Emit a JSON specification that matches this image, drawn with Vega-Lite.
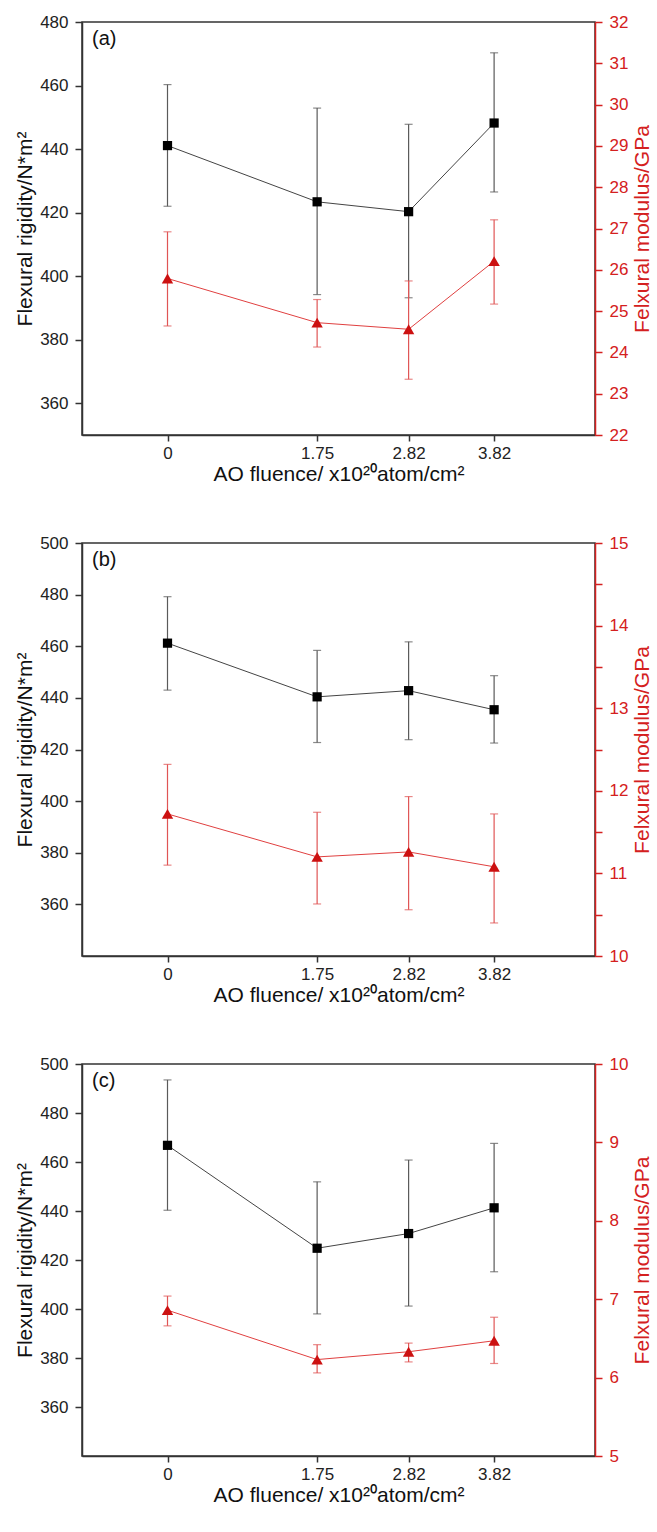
{
  "$schema": "https://vega.github.io/schema/vega-lite/v6.json",
  "padding": {"left": 13, "top": 12, "right": 0, "bottom": 0},
  "spacing": 48,
  "datasets": {
    "a": [
      {"x": 0, "rig": 441.1, "rig_lo": 422.0, "rig_hi": 460.3, "mod": 25.79, "mod_lo": 24.64, "mod_hi": 26.92},
      {"x": 1.75, "rig": 423.4, "rig_lo": 394.2, "rig_hi": 452.9, "mod": 24.72, "mod_lo": 24.13, "mod_hi": 25.28},
      {"x": 2.82, "rig": 420.3, "rig_lo": 393.2, "rig_hi": 447.8, "mod": 24.56, "mod_lo": 23.35, "mod_hi": 25.73},
      {"x": 3.82, "rig": 448.2, "rig_lo": 426.5, "rig_hi": 470.3, "mod": 26.21, "mod_lo": 25.17, "mod_hi": 27.21}
    ],
    "b": [
      {"x": 0, "rig": 461.2, "rig_lo": 443.0, "rig_hi": 479.2, "mod": 11.72, "mod_lo": 11.10, "mod_hi": 12.32},
      {"x": 1.75, "rig": 440.4, "rig_lo": 422.7, "rig_hi": 458.4, "mod": 11.20, "mod_lo": 10.63, "mod_hi": 11.74},
      {"x": 2.82, "rig": 442.8, "rig_lo": 423.8, "rig_hi": 461.7, "mod": 11.26, "mod_lo": 10.56, "mod_hi": 11.93},
      {"x": 3.82, "rig": 435.4, "rig_lo": 422.5, "rig_hi": 448.6, "mod": 11.08, "mod_lo": 10.40, "mod_hi": 11.72}
    ],
    "c": [
      {"x": 0, "rig": 466.8, "rig_lo": 440.3, "rig_hi": 493.5, "mod": 6.86, "mod_lo": 6.66, "mod_hi": 7.04},
      {"x": 1.75, "rig": 424.8, "rig_lo": 398.0, "rig_hi": 451.9, "mod": 6.23, "mod_lo": 6.06, "mod_hi": 6.42},
      {"x": 2.82, "rig": 430.8, "rig_lo": 401.2, "rig_hi": 460.8, "mod": 6.33, "mod_lo": 6.20, "mod_hi": 6.44},
      {"x": 3.82, "rig": 441.3, "rig_lo": 415.2, "rig_hi": 467.6, "mod": 6.47, "mod_lo": 6.18, "mod_hi": 6.77}
    ]
  },
  "vconcat": [
    {
      "width": 513, "height": 413,
      "data": {"name": "a"},
      "title": {"text": "(a)"},
      "encoding": {"x": {"field": "x", "type": "quantitative", "scale": {"domain": [-1, 5]}, "axis": {"values": [0, 1.75, 2.82, 3.82], "labelExpr": "'' + datum.value", "title": "AO fluence/ x10²⁰atom/cm²"}}},
      "layer": [
        {
          "layer": [
            {"mark": {"type": "errorbar", "ticks": {"size": 8}, "color": "#5a5a5a", "thickness": 1.2},
             "encoding": {"y": {"field": "rig_lo", "type": "quantitative", "scale": {"domain": [350, 480]},
               "axis": {"orient": "left", "title": "Flexural rigidity/N*m²", "values": [360,370,380,390,400,410,420,430,440,450,460,470,480], "labelExpr": "datum.value % 20 === 0 ? format(datum.value, 'd') : ''", "encode": {"ticks": {"update": {"x2": {"signal": "datum.value % 20 === 0 ? -7 : -3.5"}}}}}},
               "y2": {"field": "rig_hi"}}},
            {"mark": {"type": "line", "color": "#444", "strokeWidth": 1}, "encoding": {"y": {"field": "rig", "type": "quantitative"}}},
            {"mark": {"type": "point", "shape": "square", "filled": true, "color": "#000", "size": 85, "opacity": 1}, "encoding": {"y": {"field": "rig", "type": "quantitative"}}}
          ]
        },
        {
          "layer": [
            {"mark": {"type": "errorbar", "ticks": {"size": 8}, "color": "#e05555", "thickness": 1.2},
             "encoding": {"y": {"field": "mod_lo", "type": "quantitative", "scale": {"domain": [22, 32]},
               "axis": {"orient": "right", "title": "Felxural modulus/GPa", "titleAngle": 270, "titleBaseline": "top", "values": [22,22.5,23,23.5,24,24.5,25,25.5,26,26.5,27,27.5,28,28.5,29,29.5,30,30.5,31,31.5,32], "labelExpr": "datum.value % 1 === 0 ? format(datum.value, 'd') : ''", "domainColor": "#d42020", "tickColor": "#d42020", "labelColor": "#d42020", "titleColor": "#d42020", "labelPadding": 7, "encode": {"ticks": {"update": {"x2": {"signal": "datum.value % 1 === 0 ? 7 : 3.5"}}}}}},
               "y2": {"field": "mod_hi"}}},
            {"mark": {"type": "line", "color": "#e04040", "strokeWidth": 1}, "encoding": {"y": {"field": "mod", "type": "quantitative"}}},
            {"mark": {"type": "point", "shape": "triangle-up", "filled": true, "color": "#cc1111", "size": 130, "opacity": 1}, "encoding": {"y": {"field": "mod", "type": "quantitative"}}}
          ]
        }
      ],
      "resolve": {"scale": {"y": "independent"}}
    },
    {
      "width": 513, "height": 413,
      "data": {"name": "b"},
      "title": {"text": "(b)"},
      "encoding": {"x": {"field": "x", "type": "quantitative", "scale": {"domain": [-1, 5]}, "axis": {"values": [0, 1.75, 2.82, 3.82], "labelExpr": "'' + datum.value", "title": "AO fluence/ x10²⁰atom/cm²"}}},
      "layer": [
        {
          "layer": [
            {"mark": {"type": "errorbar", "ticks": {"size": 8}, "color": "#5a5a5a", "thickness": 1.2},
             "encoding": {"y": {"field": "rig_lo", "type": "quantitative", "scale": {"domain": [350, 500]},
               "axis": {"orient": "left", "title": "Flexural rigidity/N*m²", "values": [360,370,380,390,400,410,420,430,440,450,460,470,480,490,500], "labelExpr": "datum.value % 20 === 0 ? format(datum.value, 'd') : ''", "encode": {"ticks": {"update": {"x2": {"signal": "datum.value % 20 === 0 ? -7 : -3.5"}}}}}},
               "y2": {"field": "rig_hi"}}},
            {"mark": {"type": "line", "color": "#444", "strokeWidth": 1}, "encoding": {"y": {"field": "rig", "type": "quantitative"}}},
            {"mark": {"type": "point", "shape": "square", "filled": true, "color": "#000", "size": 85, "opacity": 1}, "encoding": {"y": {"field": "rig", "type": "quantitative"}}}
          ]
        },
        {
          "layer": [
            {"mark": {"type": "errorbar", "ticks": {"size": 8}, "color": "#e05555", "thickness": 1.2},
             "encoding": {"y": {"field": "mod_lo", "type": "quantitative", "scale": {"domain": [10, 15]},
               "axis": {"orient": "right", "title": "Felxural modulus/GPa", "titleAngle": 270, "titleBaseline": "top", "values": [10,10.5,11,11.5,12,12.5,13,13.5,14,14.5,15], "labelExpr": "datum.value % 1 === 0 ? format(datum.value, 'd') : ''", "domainColor": "#d42020", "tickColor": "#d42020", "labelColor": "#d42020", "titleColor": "#d42020", "labelPadding": 7, "encode": {"ticks": {"update": {"x2": {"signal": "datum.value % 1 === 0 ? 7 : 3.5"}}}}}},
               "y2": {"field": "mod_hi"}}},
            {"mark": {"type": "line", "color": "#e04040", "strokeWidth": 1}, "encoding": {"y": {"field": "mod", "type": "quantitative"}}},
            {"mark": {"type": "point", "shape": "triangle-up", "filled": true, "color": "#cc1111", "size": 130, "opacity": 1}, "encoding": {"y": {"field": "mod", "type": "quantitative"}}}
          ]
        }
      ],
      "resolve": {"scale": {"y": "independent"}}
    },
    {
      "width": 513, "height": 392,
      "data": {"name": "c"},
      "title": {"text": "(c)"},
      "encoding": {"x": {"field": "x", "type": "quantitative", "scale": {"domain": [-1, 5]}, "axis": {"values": [0, 1.75, 2.82, 3.82], "labelExpr": "'' + datum.value", "title": "AO fluence/ x10²⁰atom/cm²"}}},
      "layer": [
        {
          "layer": [
            {"mark": {"type": "errorbar", "ticks": {"size": 8}, "color": "#5a5a5a", "thickness": 1.2},
             "encoding": {"y": {"field": "rig_lo", "type": "quantitative", "scale": {"domain": [350, 500]},
               "axis": {"orient": "left", "title": "Flexural rigidity/N*m²", "values": [360,370,380,390,400,410,420,430,440,450,460,470,480,490,500], "labelExpr": "datum.value % 20 === 0 ? format(datum.value, 'd') : ''", "encode": {"ticks": {"update": {"x2": {"signal": "datum.value % 20 === 0 ? -7 : -3.5"}}}}}},
               "y2": {"field": "rig_hi"}}},
            {"mark": {"type": "line", "color": "#444", "strokeWidth": 1}, "encoding": {"y": {"field": "rig", "type": "quantitative"}}},
            {"mark": {"type": "point", "shape": "square", "filled": true, "color": "#000", "size": 85, "opacity": 1}, "encoding": {"y": {"field": "rig", "type": "quantitative"}}}
          ]
        },
        {
          "layer": [
            {"mark": {"type": "errorbar", "ticks": {"size": 8}, "color": "#e05555", "thickness": 1.2},
             "encoding": {"y": {"field": "mod_lo", "type": "quantitative", "scale": {"domain": [5, 10]},
               "axis": {"orient": "right", "title": "Felxural modulus/GPa", "titleAngle": 270, "titleBaseline": "top", "values": [5,5.5,6,6.5,7,7.5,8,8.5,9,9.5,10], "labelExpr": "datum.value % 1 === 0 ? format(datum.value, 'd') : ''", "domainColor": "#d42020", "tickColor": "#d42020", "labelColor": "#d42020", "titleColor": "#d42020", "labelPadding": 7, "encode": {"ticks": {"update": {"x2": {"signal": "datum.value % 1 === 0 ? 7 : 3.5"}}}}}},
               "y2": {"field": "mod_hi"}}},
            {"mark": {"type": "line", "color": "#e04040", "strokeWidth": 1}, "encoding": {"y": {"field": "mod", "type": "quantitative"}}},
            {"mark": {"type": "point", "shape": "triangle-up", "filled": true, "color": "#cc1111", "size": 130, "opacity": 1}, "encoding": {"y": {"field": "mod", "type": "quantitative"}}}
          ]
        }
      ],
      "resolve": {"scale": {"y": "independent"}}
    }
  ],
  "config": {
    "font": "Liberation Sans",
    "view": {"stroke": "#333", "strokeWidth": 1.5},
    "title": {"anchor": "start", "frame": "group", "fontSize": 20, "fontWeight": "normal", "color": "#111", "baseline": "top", "offset": -36, "dx": 10},
    "axis": {"grid": false, "labelFontSize": 17, "titleFontSize": 21, "titleFontWeight": "normal", "domainColor": "#333", "domainWidth": 1.5, "tickColor": "#333", "tickWidth": 1.5, "tickSize": 7, "labelPadding": 7, "titlePadding": 4, "labelColor": "#222", "titleColor": "#111", "labelOverlap": false, "labelFlush": false},
    "axisX": {"tickSize": 6, "labelPadding": 4, "titlePadding": 2}
  }
}
